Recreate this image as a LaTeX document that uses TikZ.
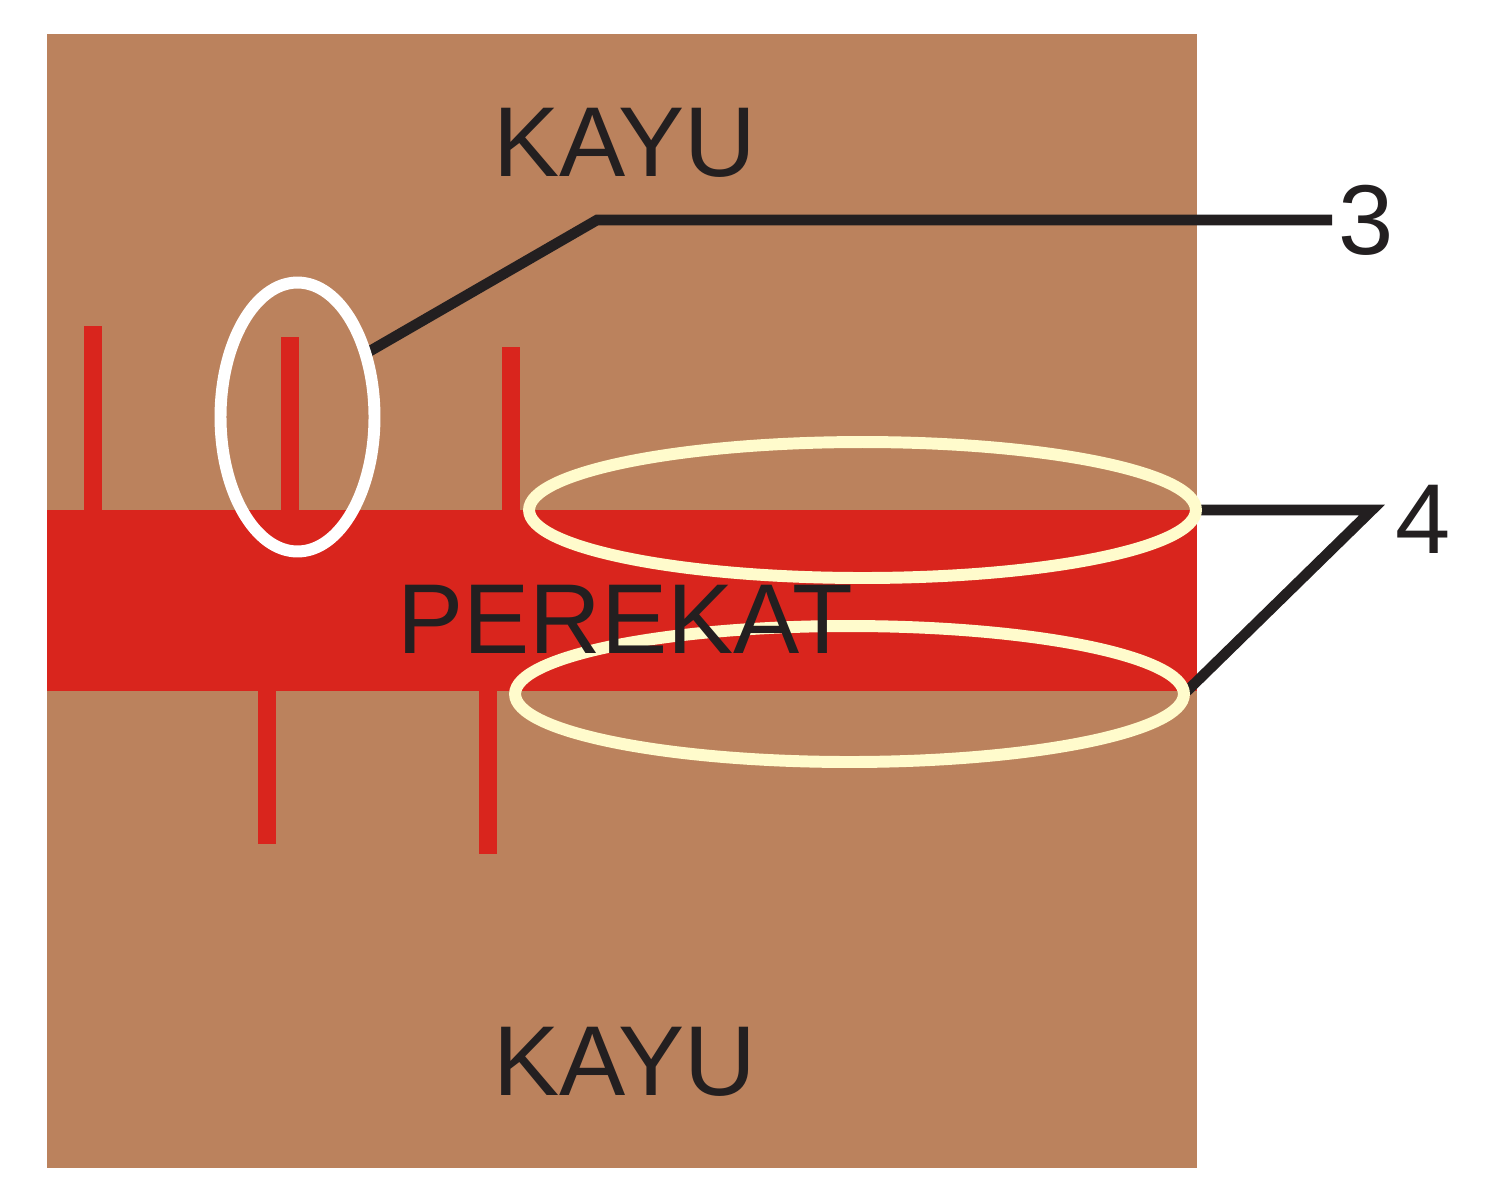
\documentclass[tikz,border=0pt]{standalone}
\usepackage{fontspec}
\setmainfont{Liberation Sans}
\usetikzlibrary{shapes.geometric}
\definecolor{wood}{RGB}{187,130,93}
\definecolor{glue}{RGB}{217,37,29}
\definecolor{ink}{RGB}{35,31,32}
\definecolor{ring}{RGB}{255,251,204}
\pgfdeclarelayer{back}
\pgfdeclarelayer{mid}
\pgfsetlayers{back,mid,main}
\begin{document}
\begin{tikzpicture}[x=0.02cm,y=-0.02cm,
  lbl/.style={font=\fontsize{56.5}{60}\selectfont, text=ink, inner sep=0pt, outer sep=0pt, anchor=base},
  spike/.style={fill=glue, draw=none},
  leader/.style={draw=ink, line width=6pt, line join=miter},
  loop/.style={draw, ellipse, inner sep=0pt, outer sep=0pt, line width=6.8pt}]
\useasboundingbox (0,0) rectangle (1500,1201);
\begin{pgfonlayer}{back}
% wood block and glue line
\fill[wood] (47,34) rectangle (1197,1168);
\fill[glue] (47,510) rectangle (1197,691);
% glue penetration spikes
\fill[spike] (84,326) rectangle (101.5,511);
\fill[spike] (281,337) rectangle (298.5,511);
\fill[spike] (502,347) rectangle (519.5,511);
\fill[spike] (258,690) rectangle (275.5,844);
\fill[spike] (479,690) rectangle (496.5,854);
\end{pgfonlayer}
% marked regions
\node[loop, draw=white, minimum width=3.08cm, minimum height=5.38cm] (wh) at (297.5,417) {};
\node[loop, draw=ring, minimum width=13.34cm, minimum height=2.72cm] (yt) at (862.5,510) {};
\node[loop, draw=ring, minimum width=13.38cm, minimum height=2.72cm] (yb) at (849.5,694) {};
% labels
\node[lbl] (k1) at (625,176) {KAYU};
\node[lbl] (pk) at (625,653) {PEREKAT};
\node[lbl] (k2) at (625,1095) {KAYU};
\node[lbl] (n3) at (1366,254) {3};
\node[lbl] (n4) at (1423,553) {4};
% leader bend points
\coordinate (b3) at (597,220);
\coordinate (e3) at (1332,220);
\coordinate (b4) at (1372,510);
\begin{pgfonlayer}{mid}
\draw[leader] (wh.43) -- (b3) -- (e3);
\draw[leader] (yt.east) -- (b4) -- (yb.east);
\end{pgfonlayer}
\end{tikzpicture}
\end{document}
